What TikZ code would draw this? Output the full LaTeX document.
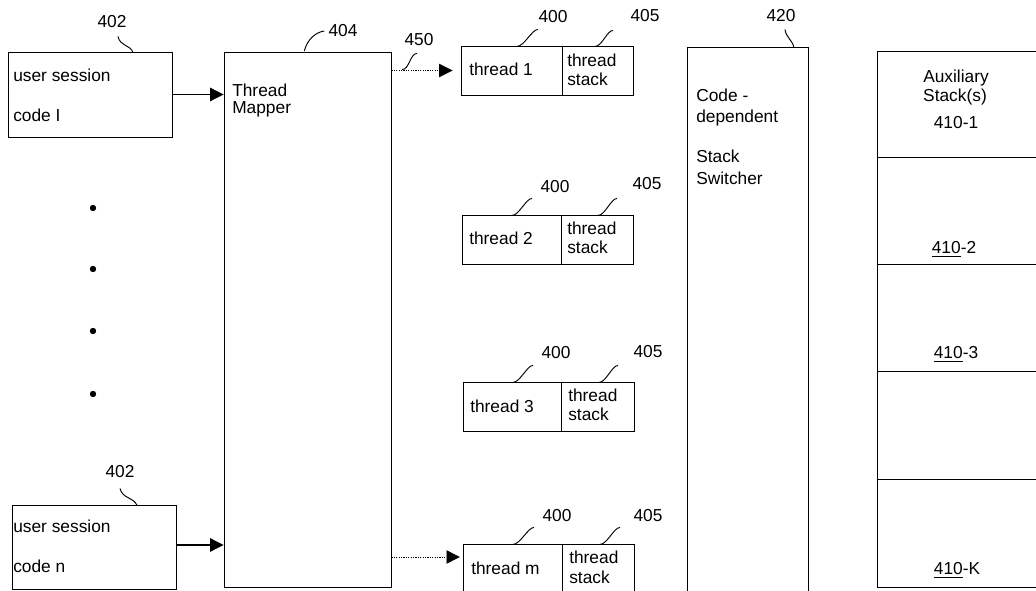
\documentclass[tikz,border=0pt]{standalone}
\usepackage{fontspec}
\setmainfont{Liberation Sans}
\usetikzlibrary{arrows.meta, positioning, calc, fit}

\begin{document}
\begin{tikzpicture}[
  x=0.75pt, y=-0.75pt,
  font=\fontsize{13}{15}\selectfont,
  blk/.style={draw, line width=0.7pt, inner sep=0pt},
  txt/.style={anchor=base west, inner sep=0pt},
  ctxt/.style={anchor=base, inner sep=0pt},
  num/.style={anchor=base, inner sep=0pt},
  lead/.style={line width=0.7pt},
  arr/.style={-{Triangle[length=10pt, width=10pt]}, line width=0.8pt},
  darr/.style={arr, line width=0.6pt, dash pattern=on 0.8pt off 1pt},
  dot/.style={circle, fill, inner sep=0pt, minimum size=4.8pt}
]
\clip (0,0) rectangle (1036,591);

% user sessions
\node[blk, fit={(8,52) (172,137)}] (us1) {};
\node[txt] (us1a) at (13,82) {user session};
\node[txt] (us1b) at (13,122) {code I};
\node[blk, fit={(12,505) (176,589)}] (us2) {};
\node[txt] (us2a) at (13,533) {user session};
\node[txt] (us2b) at (13,572) {code n};
\node[num] (n402a) at (112,28) {402};
\node[num] (n402b) at (120,478) {402};
\node[dot] (d1) at (93,208) {};
\node[dot] (d2) at (93,269) {};
\node[dot] (d3) at (93,331) {};
\node[dot] (d4) at (93,394) {};

% thread mapper
\node[blk, fit={(224,52) (391,587)}] (mapper) {};
\node[txt] (mapa) at (232,97) {Thread};
\node[txt] (mapb) at (232,114) {Mapper};
\node[num] (n404) at (343,37) {404};
\node[num] (n450) at (419,46) {450};

% threads
\node[blk, fit={(461,46) (562,95)}] (thr1) {};
\node[blk, fit={(562,46) (633,95)}] (stk1) {};
\node[txt] (thr1t) at (469,76) {thread 1};
\node[txt] (stk1a) at (567,67) {thread};
\node[txt] (stk1b) at (567,86) {stack};
\node[blk, fit={(462,215) (561,264)}] (thr2) {};
\node[blk, fit={(561,215) (633,264)}] (stk2) {};
\node[txt] (thr2t) at (469,245) {thread 2};
\node[txt] (stk2a) at (567,235) {thread};
\node[txt] (stk2b) at (567,254) {stack};
\node[blk, fit={(463,382) (561,431)}] (thr3) {};
\node[blk, fit={(561,382) (634,431)}] (stk3) {};
\node[txt] (thr3t) at (470,413) {thread 3};
\node[txt] (stk3a) at (568,402) {thread};
\node[txt] (stk3b) at (568,421) {stack};
\node[blk, fit={(463,544) (562,596)}] (thrm) {};
\node[blk, fit={(562,544) (634,596)}] (stkm) {};
\node[txt] (thrmt) at (471,575) {thread m};
\node[txt] (stkma) at (569,564) {thread};
\node[txt] (stkmb) at (569,584) {stack};
\node[num] (n400a) at (553,23) {400};
\node[num] (n405a) at (645,22) {405};
\node[num] (n400b) at (555,193) {400};
\node[num] (n405b) at (647,190) {405};
\node[num] (n400c) at (556,359) {400};
\node[num] (n405c) at (648,358) {405};
\node[num] (n400m) at (557,522) {400};
\node[num] (n405m) at (648,522) {405};

% stack switcher
\node[blk, fit={(687,47) (808,596)}] (switch) {};
\node[txt] (swa) at (696,102) {Code -};
\node[txt] (swb) at (696,123) {dependent};
\node[txt] (swc) at (696,163) {Stack};
\node[txt] (swd) at (696,185) {Switcher};
\node[num] (n420) at (781,22) {420};

% auxiliary stacks
\node[blk, fit={(877,51) (1040,157)}] (aux1) {};
\node[blk, fit={(877,157) (1040,264)}] (aux2) {};
\node[blk, fit={(877,264) (1040,371)}] (aux3) {};
\node[blk, fit={(877,371) (1040,479)}] (aux4) {};
\node[blk, fit={(877,479) (1040,587)}] (aux5) {};
\node[ctxt] (auxa) at (956,83) {Auxiliary};
\node[ctxt] (auxb) at (955,102) {Stack(s)};
\node[ctxt] (aux1t) at (956,129) {410-1};
\node[ctxt] (aux2t) at (954,254) {\underline{410}-2};
\node[ctxt] (aux3t) at (956,359) {\underline{410}-3};
\node[ctxt] (auxkt) at (957,575) {\underline{410}-K};

% arrows
\draw[arr] (us1.east) -- (us1.east -| mapper.west);
\draw[arr] (us2.east |- 0,545) -- (mapper.west |- 0,545);
\draw[darr] (mapper.east |- thr1.west) -- ([xshift=-6pt]thr1.west);
\draw[darr] (mapper.east |- 0,557) -- ([xshift=-2pt]thrm.west |- 0,557);

% leader lines
\draw[lead] (n402a.south) ++(6,8) .. controls +(2,10) and +(-3,-8) .. ++(15,16);
\draw[lead] (n402b.south) ++(0,10) .. controls +(2,10) and +(-3,-8) .. ++(17,17);
\draw[lead] (n404.west) ++(-4,0) .. controls +(-8,1) and +(3,-12) .. ++(-20,20);
\draw[lead] (n450.south) ++(-2,7) .. controls +(-7,0) and +(7,1) .. ++(-15,16);
\draw[lead] (n420.south) ++(4,7) .. controls +(1,8) and +(-2,-8) .. ++(9,18);
\draw[lead] (n400a.south) ++(-15,6) .. controls +(-6,0) and +(7,0) .. ++(-21,17);
\draw[lead] (n405a.south) ++(-32,8) .. controls +(-6,0) and +(7,0) .. ++(-18,16);
\draw[lead] (n400b.south) ++(-23,5) .. controls +(-6,0) and +(7,0) .. ++(-20,17);
\draw[lead] (n405b.south) ++(-30,8) .. controls +(-6,0) and +(7,0) .. ++(-19,17);
\draw[lead] (n400c.south) ++(-23,6) .. controls +(-6,0) and +(7,0) .. ++(-20,17);
\draw[lead] (n405c.south) ++(-30,7) .. controls +(-6,0) and +(7,0) .. ++(-19,17);
\draw[lead] (n400m.south) ++(-23,5) .. controls +(-6,0) and +(7,0) .. ++(-21,17);
\draw[lead] (n405m.south) ++(-28,5) .. controls +(-6,0) and +(7,0) .. ++(-20,17);
\end{tikzpicture}
\end{document}
